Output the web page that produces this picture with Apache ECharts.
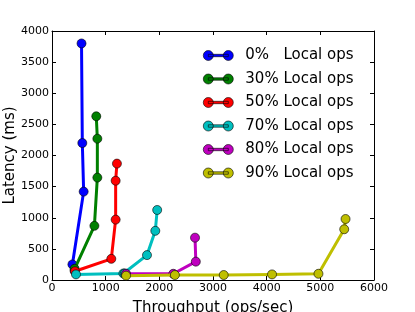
<!DOCTYPE html>
<html><head><meta charset="utf-8">
<script src="https://cdn.jsdelivr.net/npm/echarts@6/dist/echarts.min.js"></script>
<style>html,body{margin:0;padding:0;background:#fff}#c{width:415px;height:312px}</style>
</head><body><div id="c"></div>
<script>
const seriesNames = ['0%   Local ops','30% Local ops','50% Local ops','70% Local ops','80% Local ops','90% Local ops'];
const colors = ['#0000ff','#008000','#ff0000','#00bfbf','#bf00bf','#bfbf00'];
const local0 = [[420,150],[380,250],[590,1420],[565,2200],[550,3800]];
const local30 = [[422,180],[790,870],[845,1645],[845,2270],[825,2630]];
const local50 = [[428,140],[1105,340],[1186,970],[1186,1595],[1210,1870]];
const local70 = [[447,90],[1330,105],[1355,105],[1770,400],[1925,790],[1960,1125]];
const local80 = [[1380,100],[2260,100],[2680,295],[2665,680]];
const local90 = [[1380,70],[2290,80],[3200,80],[4100,90],[4965,100],[5445,815],[5470,980]];
const allData = [local0, local30, local50, local70, local80, local90];
const xTicks = [0,1000,2000,3000,4000,5000,6000];
const yTicks = [0,500,1000,1500,2000,2500,3000,3500,4000];

const font = 'DejaVu Sans';
const chart = echarts.init(document.getElementById('c'), null, {renderer:'canvas'});
const axisCommon = {
  axisLine:{show:true, onZero:false, lineStyle:{color:'#000', width:1}},
  axisTick:{show:true, inside:true, length:4, lineStyle:{color:'#000'}},
  splitLine:{show:false},
};
chart.setOption({
  animation:false,
  backgroundColor:'#fff',
  grid:{left:52, right:41, top:31, bottom:32, containLabel:false, outerBoundsMode:'none'},
  legend:{
    data: seriesNames,
    orient:'vertical',
    left:198, top:43,
    itemGap:8.5,
    itemWidth:30, itemHeight:10,
    icon:'path://M5,0A5,5,0,1,1,5,10A5,5,0,1,1,5,0ZM25,0A5,5,0,1,1,25,10A5,5,0,1,1,25,0ZM5,3.8L25,3.8L25,6.2L5,6.2Z',
    itemStyle:{borderColor:'#000', borderWidth:0.6},
    textStyle:{fontFamily:font, fontSize:15, color:'#000', padding:[0,0,0,7]}
  },
  xAxis:[{
    type:'value', min:0, max:6000, interval:1000, position:'bottom',
    name:'Throughput (ops/sec)', nameLocation:'middle', nameGap:21, nameMoveOverlap:false,
    nameTextStyle:{fontFamily:font, fontSize:15, color:'#000'},
    axisLabel:{fontFamily:font, fontSize:11, color:'#000', margin:3,
      formatter:v=>xTicks.includes(v)?String(v):''},
    ...axisCommon
  },{
    type:'value', min:0, max:6000, interval:1000, position:'top',
    axisLabel:{show:false}, ...axisCommon
  }],
  yAxis:[{
    type:'value', min:0, max:4000, interval:500, position:'left',
    name:'Latency (ms)', nameLocation:'middle', nameGap:34, nameRotate:90, nameMoveOverlap:false,
    nameTextStyle:{fontFamily:font, fontSize:15, color:'#000'},
    axisLabel:{fontFamily:font, fontSize:11, color:'#000', margin:3,
      formatter:v=>yTicks.includes(v)?String(v):''},
    ...axisCommon
  },{
    type:'value', min:0, max:4000, interval:500, position:'right',
    axisLabel:{show:false}, ...axisCommon
  }],
  series: allData.map((d,i)=>({
    name: seriesNames[i], type:'line', data:d,
    xAxisIndex:0, yAxisIndex:0,
    symbol:'circle', symbolSize:9, showSymbol:true,
    lineStyle:{color:colors[i], width:3},
    itemStyle:{color:colors[i], borderColor:'#000', borderWidth:0.6},
    z: 2+i
  }))
});
</script></body></html>
